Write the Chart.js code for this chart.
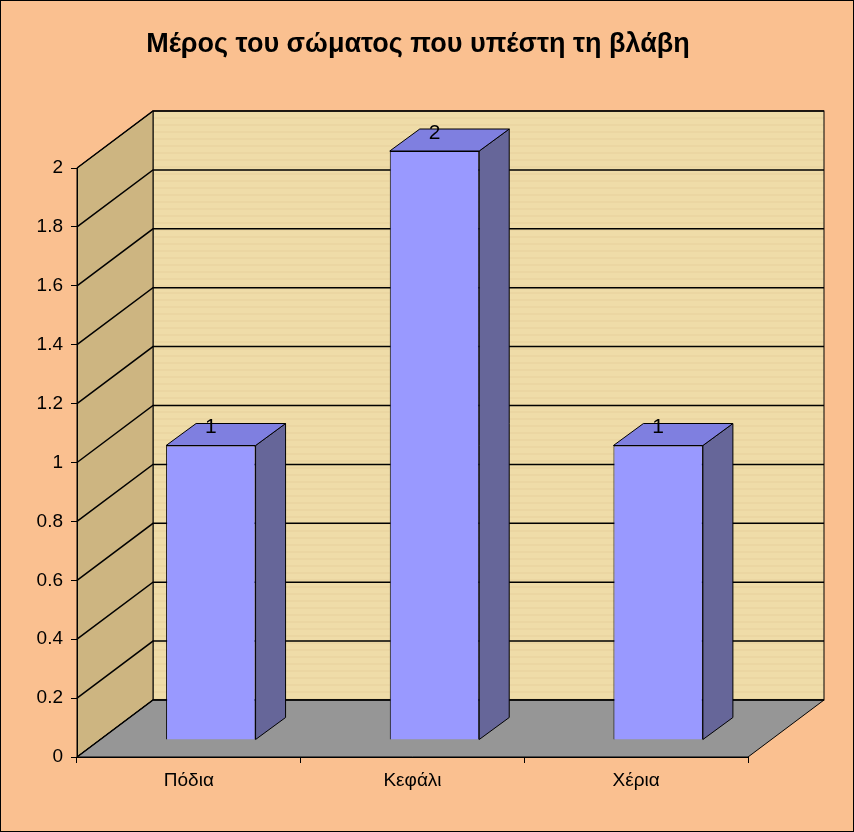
<!DOCTYPE html>
<html><head><meta charset="utf-8">
<script src="https://cdn.jsdelivr.net/npm/chart.js@4/dist/chart.umd.min.js"></script>
<style>body{margin:0;background:#fff}#wrap{width:854px;height:832px}</style>
</head><body><div id="wrap"><canvas id="c" width="854" height="832"></canvas></div>
<script>
const categories = ['Πόδια', 'Κεφάλι', 'Χέρια'];
const values = [1, 2, 1];
const titleText = 'Μέρος του σώματος που υπέστη τη βλάβη';

const DX = 76, DY = -57;      // wall depth
const BX = 22, BY = -17;      // bar offset into depth
const SX = 30, SY = -22;      // bar side depth

const threeD = {
  id: 'threeD',
  beforeDraw(chart) {
    const c = chart.ctx, a = chart.chartArea, ys = chart.scales.y;
    c.save();
    c.fillStyle = '#FAC090';
    c.fillRect(0, 0, chart.width, chart.height);
    c.strokeStyle = '#000'; c.lineWidth = 1;
    c.strokeRect(0.5, 0.5, chart.width - 1, chart.height - 1);
    c.fillStyle = '#000';
    c.font = 'bold 27px "Liberation Sans", Arial';
    c.textAlign = 'center'; c.textBaseline = 'middle';
    c.fillText(titleText, 418, 45);
    // back wall
    c.fillStyle = '#EFDCA8';
    c.fillRect(a.left + DX, a.top + DY, a.right - a.left, a.bottom - a.top);
    c.strokeStyle = 'rgba(210,180,120,0.25)';
    for (let y = a.top + DY; y < a.bottom + DY; y += 7) {
      c.beginPath(); c.moveTo(a.left + DX, y); c.lineTo(a.right + DX, y); c.stroke();
    }
    c.strokeStyle = '#000';
    c.strokeRect(a.left + DX, a.top + DY, a.right - a.left, a.bottom - a.top);
    // left wall
    c.fillStyle = '#CDB581';
    c.beginPath();
    c.moveTo(a.left, a.top); c.lineTo(a.left + DX, a.top + DY);
    c.lineTo(a.left + DX, a.bottom + DY); c.lineTo(a.left, a.bottom);
    c.closePath(); c.fill(); c.stroke();
    // floor
    c.fillStyle = '#969696';
    c.beginPath();
    c.moveTo(a.left, a.bottom); c.lineTo(a.left + DX, a.bottom + DY);
    c.lineTo(a.right + DX, a.bottom + DY); c.lineTo(a.right, a.bottom);
    c.closePath(); c.fill(); c.stroke();
    // gridlines
    c.lineWidth = 1.5;
    ys.ticks.forEach(t => {
      const y = ys.getPixelForValue(t.value);
      c.beginPath(); c.moveTo(a.left, y); c.lineTo(a.left + DX, y + DY);
      c.lineTo(a.right + DX, y + DY); c.stroke();
    });
    c.restore();
  },
  beforeDatasetsDraw(chart) {
    chart.ctx.save();
    chart.ctx.translate(BX, BY);
  },
  afterDatasetsDraw(chart) {
    const c = chart.ctx;
    chart.getDatasetMeta(0).data.forEach((bar, i) => {
      const l = bar.x - bar.width / 2, r = bar.x + bar.width / 2, t = bar.y, b = bar.base;
      c.strokeStyle = '#000'; c.lineWidth = 1;
      c.fillStyle = '#666699';
      c.beginPath(); c.moveTo(r, b); c.lineTo(r + SX, b + SY); c.lineTo(r + SX, t + SY); c.lineTo(r, t);
      c.closePath(); c.fill(); c.stroke();
      c.fillStyle = '#7F7FE0';
      c.beginPath(); c.moveTo(l, t); c.lineTo(l + SX, t + SY); c.lineTo(r + SX, t + SY); c.lineTo(r, t);
      c.closePath(); c.fill(); c.stroke();
      c.fillStyle = '#000';
      c.font = '21px "Liberation Sans", Arial';
      c.textAlign = 'center'; c.textBaseline = 'middle';
      c.fillText(String(values[i]), bar.x, t - 18);
    });
    c.restore();
  }
};

const tickFont = { size: 19, family: '"Liberation Sans", Arial' };

new Chart(document.getElementById('c'), {
  type: 'bar',
  data: {
    labels: categories,
    datasets: [{
      data: values,
      backgroundColor: '#9999FF',
      borderColor: '#000',
      borderWidth: 1,
      barPercentage: 0.4,
      categoryPercentage: 1
    }]
  },
  options: {
    responsive: false,
    animation: false,
    layout: { padding: { top: 168, right: 106, left: 0, bottom: 0 } },
    plugins: { legend: { display: false }, tooltip: { enabled: false } },
    scales: {
      x: {
        afterFit: s => { s.height = 75; },
        grid: { display: true, drawOnChartArea: false, color: '#000', tickLength: 6, offset: true },
        border: { color: '#000' },
        ticks: { color: '#000', font: tickFont, padding: 6 }
      },
      y: {
        min: 0, max: 2,
        afterFit: s => { s.width = 77; },
        grid: { display: true, drawOnChartArea: false, color: '#000', tickLength: 6 },
        border: { color: '#000' },
        ticks: { stepSize: 0.2, color: '#000', font: tickFont, padding: 8,
                 callback: v => String(Math.round(v * 10) / 10) }
      }
    }
  },
  plugins: [threeD]
});
</script>
</body></html>
